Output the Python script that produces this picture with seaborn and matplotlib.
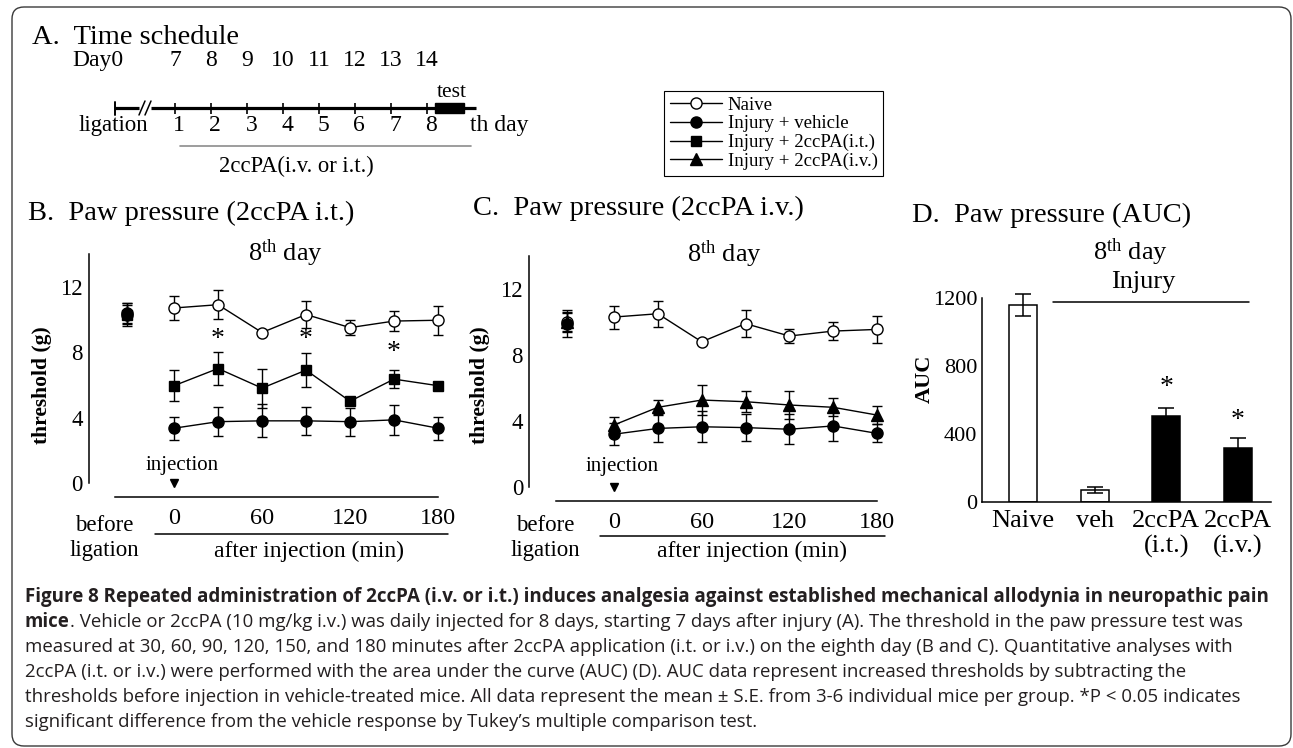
import matplotlib
matplotlib.use("Agg")
import matplotlib.pyplot as plt
import numpy as np
import pandas as pd
import seaborn as sns
from matplotlib.lines import Line2D
from matplotlib.patches import FancyBboxPatch, Rectangle

# ---------------- data ----------------
sched_days = [7, 8, 9, 10, 11, 12, 13, 14]
treat_days = [1, 2, 3, 4, 5, 6, 7, 8]

time_min = [0, 30, 60, 90, 120, 150, 180]          # after injection
# first value of each series = "before ligation"
B_naive = [10.3, 10.7, 10.9, 9.2, 10.3, 9.5, 9.9, 9.95]
B_naive_se = [0.7, 0.75, 0.9, 0.15, 0.8, 0.45, 0.6, 0.9]
B_veh = [10.4, 3.35, 3.75, 3.8, 3.8, 3.75, 3.86, 3.35]
B_veh_se = [0.6, 0.7, 0.9, 1.0, 0.85, 0.85, 0.9, 0.7]
B_it = [10.3, 5.95, 7.0, 5.8, 6.9, 5.0, 6.35, 5.95]
B_it_se = [0.6, 0.95, 1.0, 1.2, 1.05, 0.15, 0.55, 0.2]
B_star_t = [30, 90, 150]
B_star_y = [8.75, 8.75, 7.95]

C_naive = [10.0, 10.3, 10.5, 8.8, 9.9, 9.15, 9.45, 9.55]
C_naive_se = [0.6, 0.7, 0.8, 0.15, 0.8, 0.4, 0.55, 0.8]
C_veh = [9.9, 3.2, 3.55, 3.65, 3.6, 3.5, 3.7, 3.25]
C_veh_se = [0.8, 0.65, 0.85, 0.95, 0.8, 0.9, 0.9, 0.55]
C_iv = [10.0, 3.76, 4.83, 5.27, 5.17, 4.97, 4.83, 4.36]
C_iv_se = [0.55, 0.5, 0.45, 0.9, 0.65, 0.87, 0.55, 0.55]

auc_groups = ["Naive", "veh", "2ccPA\n(i.t.)", "2ccPA\n(i.v.)"]
auc_vals = [1157, 69, 504, 314]
auc_se = [65, 19, 50, 58]
auc_star_y = [None, None, 669, 476]

legend_labels = ["Naive", "Injury + vehicle", "Injury + 2ccPA(i.t.)", "Injury + 2ccPA(i.v.)"]

caption_bold = ("Figure 8 Repeated administration of 2ccPA (i.v. or i.t.) induces analgesia "
                "against established mechanical allodynia in neuropathic pain")
caption_lines = [
    ". Vehicle or 2ccPA (10 mg/kg i.v.) was daily injected for 8 days, starting 7 days after injury (A). The threshold in the paw pressure test was",
    "measured at 30, 60, 90, 120, 150, and 180 minutes after 2ccPA application (i.t. or i.v.) on the eighth day (B and C). Quantitative analyses with",
    "2ccPA (i.t. or i.v.) were performed with the area under the curve (AUC) (D). AUC data represent increased thresholds by subtracting the",
    "thresholds before injection in vehicle-treated mice. All data represent the mean \u00b1 S.E. from 3-6 individual mice per group. *P < 0.05 indicates",
    "significant difference from the vehicle response by Tukey\u2019s multiple comparison test.",
]

# ---------------- style ----------------
sns.set_theme(style="white", rc={"axes.edgecolor": "black", "xtick.color": "black",
                                 "ytick.color": "black", "text.color": "black"})
plt.rcParams["font.family"] = ["Liberation Serif", "DejaVu Serif"]
plt.rcParams["mathtext.fontset"] = "custom"
plt.rcParams["mathtext.rm"] = "Liberation Serif"
plt.rcParams["mathtext.it"] = "Liberation Serif:italic"
plt.rcParams["mathtext.bf"] = "Liberation Serif:bold"

W, H = 1293, 748
fig = plt.figure(figsize=(W / 100, H / 100), dpi=100)
fig.patch.set_facecolor("white")


def axes_px(l, t, r, b):
    ax = fig.add_axes([l / W, 1 - b / H, (r - l) / W, (b - t) / H])
    ax.patch.set_visible(False)
    return ax


BEFORE_X = -32
LW = 1.0


def draw_series(ax, vals, se, marker, face, ms):
    xs = [BEFORE_X] + time_min
    ax.errorbar(xs, vals, yerr=se, fmt="none", ecolor="black", elinewidth=LW,
                capsize=3.6, capthick=LW, zorder=2, clip_on=False)
    df = pd.DataFrame({"time": time_min, "thr": vals[1:]})
    sns.lineplot(data=df, x="time", y="thr", color="black", linewidth=LW, marker=marker,
                 markersize=ms, markerfacecolor=face, markeredgecolor="black",
                 markeredgewidth=LW, errorbar=None, ax=ax, zorder=3, clip_on=False)
    ax.plot([BEFORE_X], [vals[0]], linestyle="none", marker=marker, ms=ms, mfc=face,
            mec="black", mew=LW, zorder=3, clip_on=False)


def setup_time_axes(ax):
    ax.set_xlim(-58, 186)
    ax.set_ylim(0, 14)
    for s in ["top", "right"]:
        ax.spines[s].set_visible(False)
    ax.spines["left"].set_bounds(0, 14)
    ax.spines["bottom"].set_position(("outward", 10))
    ax.spines["bottom"].set_bounds(-40, 180)
    for s in ["left", "bottom"]:
        ax.spines[s].set_linewidth(1.1)
    ax.set_yticks([0, 2, 4, 6, 8, 10, 12])
    ax.set_yticklabels(["0", "", "4", "", "8", "", "12"])
    ax.set_xticks([-40, 0, 30, 60, 90, 120, 150, 180])
    ax.set_xticklabels(["", "0", "", "60", "", "120", "", "180"])
    ax.tick_params(axis="y", direction="in", length=6, width=1.1, labelsize=16.5, pad=4.5)
    ax.tick_params(axis="x", direction="in", length=4, width=1.1, labelsize=17.5, pad=8)
    ax.set_xlabel("")
    ax.set_ylabel("")
    ax.plot([0], [0], marker="v", ms=6, color="black", linestyle="none", clip_on=False)


# ---------------- Panel B ----------------
axB = axes_px(89, 254, 446.8, 483)
draw_series(axB, B_naive, B_naive_se, "o", "white", 8)
draw_series(axB, B_veh, B_veh_se, "o", "black", 8)
draw_series(axB, B_it, B_it_se, "s", "black", 7)
setup_time_axes(axB)
for t, y in zip(B_star_t, B_star_y):
    axB.text(t, y, "*", ha="center", va="center", fontsize=20)

# ---------------- Panel C ----------------
axC = axes_px(529.3, 256, 885.8, 487)
draw_series(axC, C_naive, C_naive_se, "o", "white", 8)
draw_series(axC, C_veh, C_veh_se, "o", "black", 8)
draw_series(axC, C_iv, C_iv_se, "^", "black", 8)
setup_time_axes(axC)

# ---------------- Panel D ----------------
axD = axes_px(982, 297.7, 1271, 501.7)
pal = {g: ("white" if i < 2 else "black") for i, g in enumerate(auc_groups)}
sns.barplot(x=auc_groups, y=auc_vals, hue=auc_groups, order=auc_groups,
            hue_order=auc_groups, palette=pal, width=0.39, edgecolor="black",
            linewidth=1.1, legend=False, errorbar=None, ax=axD)
axD.errorbar(np.arange(len(auc_vals)), auc_vals, yerr=auc_se, fmt="none", ecolor="black",
             elinewidth=1.1, capsize=6, capthick=1.1, zorder=3, clip_on=False)
for i, y in enumerate(auc_star_y):
    if y is not None:
        axD.text(i, y, "*", ha="center", va="center", fontsize=20)
axD.set_xlim(-0.572, 3.46)
axD.set_ylim(0, 1200)
for s in ["top", "right"]:
    axD.spines[s].set_visible(False)
for s in ["left", "bottom"]:
    axD.spines[s].set_linewidth(1.1)
axD.set_yticks([0, 200, 400, 600, 800, 1000, 1200])
axD.set_yticklabels(["0", "", "400", "", "800", "", "1200"])
axD.tick_params(axis="y", direction="in", length=5, width=1.1, labelsize=16, pad=3.5)
axD.tick_params(axis="x", length=0, labelsize=19, pad=6)
for lab in axD.get_xticklabels():
    lab.set_linespacing(1.15)
axD.set_xlabel("")
axD.set_ylabel("")

# ---------------- Panel A (time schedule) ----------------
def dpos(px):
    return 7 + (px - 175) / 36.0

axA = axes_px(60, 40, 520, 185)
axA.set_xlim(dpos(60), dpos(520))
axA.set_ylim(185, 40)
axA.axis("off")
axA.plot([dpos(115), dpos(139)], [108, 108], color="black", lw=2.3, solid_capstyle="butt")
axA.plot([dpos(151), dpos(476)], [108, 108], color="black", lw=2.3, solid_capstyle="butt")
axA.plot([dpos(115), dpos(115)], [101.5, 114.5], color="black", lw=1.4)
axA.plot([dpos(139), dpos(145)], [115, 101], color="black", lw=1.1)
axA.plot([dpos(145), dpos(151)], [115, 101], color="black", lw=1.1)
axA.vlines(sched_days, 102.5, 113.5, color="black", lw=1.2)
axA.add_patch(Rectangle((dpos(435), 103), dpos(464) - dpos(435), 10, color="black"))
axA.text(dpos(72), 66, "Day0", ha="left", va="baseline", fontsize=17)
for d in sched_days:
    axA.text(d, 66, str(d), ha="center", va="baseline", fontsize=17)
axA.text(dpos(452), 97, "test", ha="center", va="baseline", fontsize=15.5)
axA.text(dpos(113), 131, "ligation", ha="center", va="baseline", fontsize=16.5)
for d, n in zip(sched_days, treat_days):
    axA.text(d + 0.12, 131, str(n), ha="center", va="baseline", fontsize=17)
axA.text(dpos(470), 131, "th day", ha="left", va="baseline", fontsize=17)
axA.plot([dpos(180), dpos(471)], [146, 146], color="#8c8c8c", lw=1.2)
axA.text(dpos(296), 172, "2ccPA(i.v. or i.t.)", ha="center", va="baseline", fontsize=16.3)

# ---------------- overlay (text / decorations in pixel coords) ----------------
ov = axes_px(0, 0, W, H)
ov.set_xlim(0, W)
ov.set_ylim(H, 0)
ov.axis("off")

ov.add_patch(FancyBboxPatch((12, 7), 1279, 739, boxstyle="round,pad=0,rounding_size=12",
                            fill=False, ec="#3a3a3a", lw=1.0, clip_on=False))

ov.text(32, 44, "A.  Time schedule", fontsize=20.5, va="baseline")
ov.text(28, 220, "B.  Paw pressure (2ccPA i.t.)", fontsize=20.5, va="baseline")
ov.text(473, 215, "C.  Paw pressure (2ccPA i.v.)", fontsize=20.5, va="baseline")
ov.text(912, 222, "D.  Paw pressure (AUC)", fontsize=20.5, va="baseline")

day_lbl = "8$^{\\mathrm{th}}$ day"
ov.text(285, 261, day_lbl, fontsize=19, ha="center", va="baseline")
ov.text(724, 262, day_lbl, fontsize=19, ha="center", va="baseline")
ov.text(1130, 260, day_lbl, fontsize=19, ha="center", va="baseline")
ov.text(1143, 288, "Injury", fontsize=19, ha="center", va="baseline")
ov.plot([1053, 1249], [302, 302], color="black", lw=1.1)

ov.text(42, 385, "threshold (g)", fontsize=15.5, fontweight="bold", rotation=90,
        ha="center", va="center")
ov.text(480, 385, "threshold (g)", fontsize=15.5, fontweight="bold", rotation=90,
        ha="center", va="center")
ov.text(925, 379, "AUC", fontsize=16, fontweight="bold", rotation=90,
        ha="center", va="center")

for bx, lx, lx0, lx1, ly in [(104, 309, 155, 448, 534), (545, 752, 600, 885, 536)]:
    ov.text(bx, 531, "before", fontsize=16.5, ha="center", va="baseline")
    ov.text(bx, 556, "ligation", fontsize=16.5, ha="center", va="baseline")
    ov.text(lx, 557, "after injection (min)", fontsize=17, ha="center", va="baseline")
    ov.plot([lx0, lx1], [ly, ly], color="black", lw=1.1)

ov.text(182, 470, "injection", fontsize=15, ha="center", va="baseline")
ov.text(622, 471, "injection", fontsize=15, ha="center", va="baseline")

# ---------------- legend ----------------
handles = [
    Line2D([], [], color="black", lw=LW, marker="o", ms=8, mfc="white", mec="black"),
    Line2D([], [], color="black", lw=LW, marker="o", ms=8, mfc="black", mec="black"),
    Line2D([], [], color="black", lw=LW, marker="s", ms=7, mfc="black", mec="black"),
    Line2D([], [], color="black", lw=LW, marker="^", ms=8, mfc="black", mec="black"),
]
leg = fig.legend(handles, legend_labels, loc="upper left",
                 bbox_to_anchor=(664 / W, 1 - 91 / H), bbox_transform=fig.transFigure,
                 frameon=True, fancybox=False, edgecolor="black", framealpha=1,
                 fontsize=13.5, handlelength=2.8, handletextpad=0.3, labelspacing=0.08,
                 borderpad=0.3, borderaxespad=0)
leg.get_frame().set_linewidth(0.8)

# ---------------- caption ----------------
cap_font = ["Open Sans", "DejaVu Sans"]
cap_col = "#231f20"
r = fig.canvas.get_renderer()
base = [602, 627, 652, 677, 702, 727]

t1 = ov.text(25, base[0], caption_bold, fontsize=14, fontweight="bold", family=cap_font,
             color=cap_col, va="baseline")
w = t1.get_window_extent(renderer=r).width
t1.set_fontsize(14 * 1252 / w)

probe = ov.text(25, base[2], caption_lines[1], fontsize=14, family=cap_font, color=cap_col,
                va="baseline")
w = probe.get_window_extent(renderer=r).width
fs = 14 * 1212 / w
probe.set_fontsize(fs)

tm = ov.text(25, base[1], "mice", fontsize=fs, fontweight="bold", family=cap_font,
             color=cap_col, va="baseline")
wm = tm.get_window_extent(renderer=r).width
ov.text(25 + wm, base[1], caption_lines[0], fontsize=fs, family=cap_font, color=cap_col,
        va="baseline")
for i in (2, 3, 4):
    ov.text(25, base[i + 1], caption_lines[i], fontsize=fs, family=cap_font, color=cap_col,
            va="baseline")

fig.savefig("out.png", dpi=100)
